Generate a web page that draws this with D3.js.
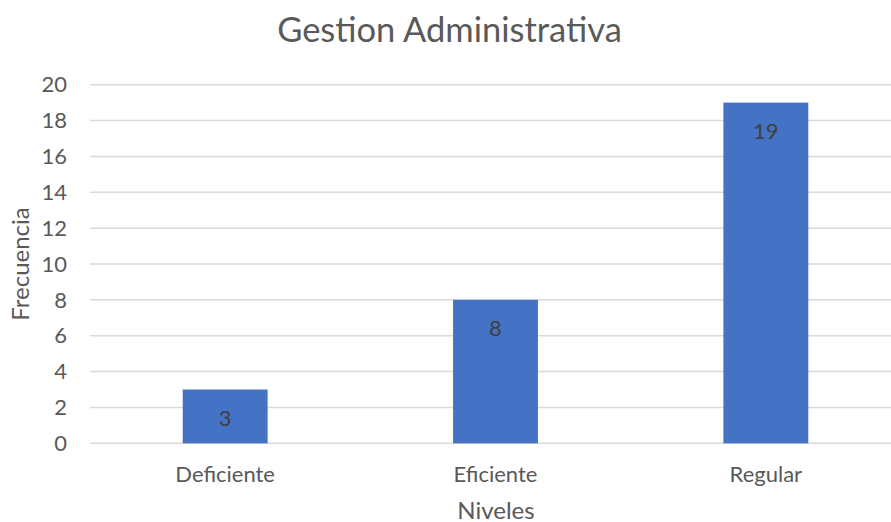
<!DOCTYPE html>
<html>
<head>
<meta charset="utf-8">
<script src="https://cdn.jsdelivr.net/npm/d3@7"></script>
<style>
    body { margin: 0; background: #fff; }
    svg { display: block; font-family: Lato, "Liberation Sans", sans-serif; }
</style>
</head>
<body>
<div id="bar-chart"></div>
<script>
// Data
const categories = ["Deficiente", "Eficiente", "Regular"];
const frecuencia = [3, 8, 19];
const yTicks = [0, 2, 4, 6, 8, 10, 12, 14, 16, 18, 20];

function createBarChart() {
    const width = 891;
    const height = 522;
    const plot = { left: 90, right: 901, top: 84.7, bottom: 443.3 };

    const svg = d3.select("#bar-chart").append("svg")
        .attr("width", width)
        .attr("height", height);

    const x = d3.scaleBand()
        .domain(categories)
        .range([plot.left, plot.right])
        .paddingInner(0.686)
        .paddingOuter(0.343);

    const y = d3.scaleLinear()
        .domain([0, 20])
        .range([plot.bottom, plot.top]);

    // Gridlines
    svg.append("g")
        .selectAll("line")
        .data(yTicks)
        .enter().append("line")
        .attr("x1", plot.left)
        .attr("x2", plot.right)
        .attr("y1", d => y(d))
        .attr("y2", d => y(d))
        .style("stroke", "#d9d9d9")
        .style("stroke-width", 1.5);

    // Y tick labels
    svg.append("g")
        .selectAll("text")
        .data(yTicks)
        .enter().append("text")
        .attr("x", 67)
        .attr("y", d => y(d))
        .attr("dy", "0.35em")
        .attr("text-anchor", "end")
        .style("font-size", "22px")
        .style("fill", "#595959")
        .text(d => d);

    // Bars
    const data = categories.map((c, i) => ({ category: c, value: frecuencia[i] }));

    svg.append("g")
        .selectAll("rect")
        .data(data)
        .enter().append("rect")
        .attr("x", d => x(d.category))
        .attr("y", d => y(d.value))
        .attr("width", x.bandwidth())
        .attr("height", d => y(0) - y(d.value))
        .style("fill", "#4472c4");

    // Data labels (inside end)
    svg.append("g")
        .selectAll("text")
        .data(data)
        .enter().append("text")
        .attr("x", d => x(d.category) + x.bandwidth() / 2)
        .attr("y", d => y(d.value) + 36)
        .attr("text-anchor", "middle")
        .style("font-size", "22px")
        .style("fill", "#404040")
        .text(d => d.value);

    // Category labels
    svg.append("g")
        .selectAll("text")
        .data(categories)
        .enter().append("text")
        .attr("x", d => x(d) + x.bandwidth() / 2)
        .attr("y", 482)
        .attr("text-anchor", "middle")
        .style("font-size", "22px")
        .style("fill", "#595959")
        .text(d => d);

    // Title
    svg.append("text")
        .attr("x", 449.5)
        .attr("y", 42)
        .attr("text-anchor", "middle")
        .style("font-size", "34.5px")
        .style("fill", "#595959")
        .text("Gestion Administrativa");

    // Axis titles
    svg.append("text")
        .attr("x", 496)
        .attr("y", 519)
        .attr("text-anchor", "middle")
        .style("font-size", "24px")
        .style("fill", "#595959")
        .text("Niveles");

    svg.append("text")
        .attr("transform", "translate(29, 264) rotate(-90)")
        .attr("text-anchor", "middle")
        .style("font-size", "24px")
        .style("fill", "#595959")
        .text("Frecuencia");
}

createBarChart();
</script>
</body>
</html>
